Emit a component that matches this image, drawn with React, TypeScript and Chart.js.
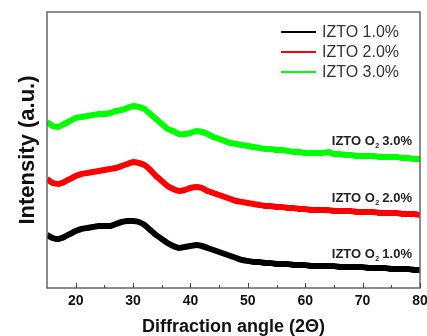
import React, { useEffect, useRef } from "react";
import { Chart, registerables } from "chart.js";

Chart.register(...registerables);

// Diffraction angle (2Θ), degrees
const angles = [
  15, 16, 17, 18, 19, 20, 21, 22, 23, 24, 25, 26, 27, 28, 29, 30, 31, 32, 33, 34, 35, 36,
  37, 38, 39, 40, 41, 42, 43, 44, 45, 46, 47, 48, 49, 50, 51, 52, 53, 54, 55, 56, 57, 58,
  59, 60, 61, 62, 63, 64, 65, 66, 67, 68, 69, 70, 71, 72, 73, 74, 75, 76, 77, 78, 79, 80,
];

// Intensity (a.u.), stacked offsets as in the figure
const izto1 = [
  53, 50, 49, 51, 54, 57, 59, 60, 61, 62, 62, 62, 64, 66, 67, 67, 66, 63, 58, 53, 49, 45,
  42, 40, 41, 42, 43, 42, 40, 38, 36, 34, 32, 30, 28, 27, 26, 26, 25, 25, 24, 24, 24, 23,
  23, 23, 22, 22, 22, 22, 22, 21, 21, 21, 21, 21, 20, 20, 20, 20, 19, 19, 19, 19, 18, 18,
];
const izto2 = [
  109, 105, 104, 106, 109, 112, 114, 115, 116, 117, 118, 119, 120, 122, 124, 126, 125, 123,
  118, 112, 107, 102, 99, 97, 98, 100, 101, 100, 97, 95, 93, 91, 89, 87, 86, 85, 84, 83, 82,
  82, 81, 81, 80, 80, 79, 79, 78, 78, 78, 78, 77, 77, 77, 77, 76, 76, 76, 76, 75, 75, 75, 75,
  74, 74, 74, 73,
];
const izto3 = [
  166, 162, 161, 164, 167, 170, 171, 172, 173, 174, 174, 175, 177, 178, 180, 182, 181, 179,
  174, 169, 164, 159, 157, 154, 154, 155, 157, 156, 154, 151, 149, 147, 145, 144, 143, 142,
  141, 140, 139, 139, 138, 138, 137, 136, 136, 135, 135, 135, 135, 136, 134, 134, 133, 133,
  132, 132, 132, 132, 131, 131, 131, 131, 130, 130, 129, 129,
];

const seriesLabels = ["IZTO 1.0%", "IZTO 2.0%", "IZTO 3.0%"];
const seriesColors = ["#000000", "#ff0000", "#00ff00"];
const curveLabelMain = ["IZTO O", "IZTO O", "IZTO O"];
const curveLabelSub = ["2", "2", "2"];
const curveLabelTail = [" 1.0%", " 2.0%", " 3.0%"];

const xMajorTicks = [20, 30, 40, 50, 60, 70, 80];
const xMinorTicks = [25, 35, 45, 55, 65, 75];

const FONT = "'Liberation Sans', Arial, sans-serif";

const decorPlugin = {
  id: "decor",
  afterDatasetsDraw(chart: any) {
    const { ctx, chartArea } = chart;
    const { left, right, top, bottom } = chartArea;
    const xs = chart.scales.x;
    ctx.save();
    ctx.strokeStyle = "#666666";
    ctx.lineWidth = 1.5;
    ctx.strokeRect(left, top, right - left, bottom - top);
    ctx.strokeStyle = "#444444";
    ctx.lineWidth = 1;
    ctx.beginPath();
    xMajorTicks.forEach((v) => {
      const px = Math.round(xs.getPixelForValue(v)) + 0.5;
      ctx.moveTo(px, bottom);
      ctx.lineTo(px, bottom - 5);
    });
    xMinorTicks.forEach((v) => {
      const px = Math.round(xs.getPixelForValue(v)) + 0.5;
      ctx.moveTo(px, bottom);
      ctx.lineTo(px, bottom - 3);
    });
    ctx.stroke();
    ctx.restore();
  },
  afterDraw(chart: any) {
    const { ctx, chartArea } = chart;
    ctx.save();
    const legX0 = 281;
    const legX1 = 316;
    const legY = [32, 52, 72];
    ctx.textBaseline = "middle";
    ctx.textAlign = "left";
    seriesLabels.forEach((lab, i) => {
      ctx.strokeStyle = seriesColors[i];
      ctx.lineWidth = 2;
      ctx.beginPath();
      ctx.moveTo(legX0, legY[i]);
      ctx.lineTo(legX1, legY[i]);
      ctx.stroke();
      ctx.fillStyle = "#333333";
      ctx.font = `16px ${FONT}`;
      ctx.fillText(lab, 322, legY[i] + 1);
    });
    const labelY = [254, 198, 141];
    const rightX = chartArea.right - 8;
    ctx.fillStyle = "#222222";
    curveLabelMain.forEach((main, i) => {
      ctx.font = `bold 13px ${FONT}`;
      const wMain = ctx.measureText(main).width;
      const wTail = ctx.measureText(curveLabelTail[i]).width;
      ctx.font = `bold 7px ${FONT}`;
      const wSub = ctx.measureText(curveLabelSub[i]).width;
      let x = rightX - (wMain + wSub + wTail);
      const y = labelY[i];
      ctx.font = `bold 13px ${FONT}`;
      ctx.fillText(main, x, y);
      x += wMain;
      ctx.font = `bold 7px ${FONT}`;
      ctx.fillText(curveLabelSub[i], x + 0.5, y + 5);
      x += wSub;
      ctx.font = `bold 13px ${FONT}`;
      ctx.fillText(curveLabelTail[i], x, y);
    });
    ctx.restore();
  },
};

export default function App() {
  const canvasRef = useRef<HTMLCanvasElement | null>(null);

  useEffect(() => {
    if (!canvasRef.current) return;
    const series = [izto1, izto2, izto3];
    const chart = new Chart(canvasRef.current, {
      type: "line",
      data: {
        datasets: series.map((vals, i) => ({
          label: seriesLabels[i],
          data: angles.map((a, j) => ({ x: a, y: vals[j] })),
          borderColor: seriesColors[i],
          backgroundColor: seriesColors[i],
          borderWidth: 6,
          pointRadius: 0,
          tension: 0.1,
          fill: false,
        })),
      },
      options: {
        animation: false,
        responsive: true,
        maintainAspectRatio: false,
        layout: { padding: { top: 12, right: 7, left: 0, bottom: 0 } },
        plugins: {
          legend: { display: false },
          tooltip: { enabled: false },
        },
        scales: {
          x: {
            type: "linear",
            min: 15,
            max: 80,
            afterBuildTicks: (scale: any) => {
              scale.ticks = xMajorTicks.map((v) => ({ value: v }));
            },
            afterFit: (scale: any) => {
              scale.height = 48;
              scale.paddingLeft = 0;
              scale.paddingRight = 0;
            },
            ticks: {
              padding: 5,
              maxRotation: 0,
              autoSkip: false,
              color: "#111111",
              font: { family: FONT, size: 14, weight: "bold" },
            },
            grid: { display: false, drawTicks: false },
            border: { display: false },
            title: {
              display: true,
              text: "Diffraction angle (2Θ)",
              color: "#111111",
              font: { family: FONT, size: 18, weight: "bold", lineHeight: 1 },
              padding: 0,
            },
          },
          y: {
            min: 0,
            max: 276,
            afterFit: (scale: any) => {
              scale.width = 47;
            },
            ticks: { display: false },
            grid: { display: false, drawTicks: false },
            border: { display: false },
            title: {
              display: true,
              text: "Intensity (a.u.)",
              color: "#111111",
              font: { family: FONT, size: 22, weight: "bold", lineHeight: 1.2 },
              padding: { top: 15, bottom: 0 },
            },
          },
        },
      },
      plugins: [decorPlugin],
    });
    return () => chart.destroy();
  }, []);

  return (
    <div style={{ position: "fixed", left: 0, top: 0, width: 427, height: 336, background: "#ffffff" }}>
      <canvas ref={canvasRef} />
    </div>
  );
}
